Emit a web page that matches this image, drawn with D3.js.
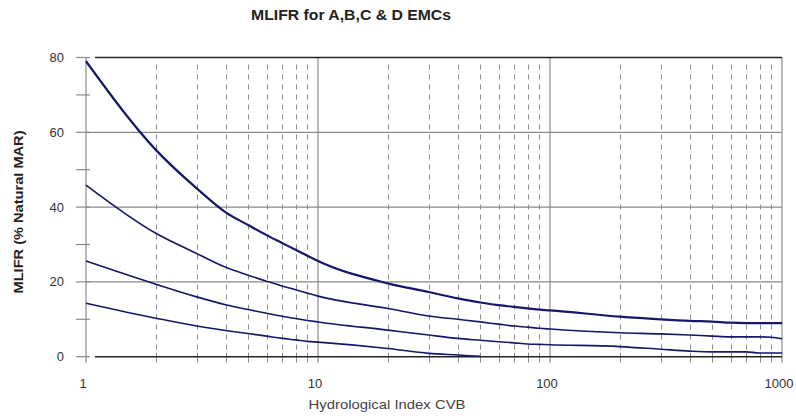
<!DOCTYPE html>
<meta charset="utf-8">
<script src="https://d3js.org/d3.v7.min.js"></script>
<style>
  body { margin: 0; background: #fff; }
  text { font-family: "Liberation Sans", Arial, sans-serif; }
</style>
<body>
<svg width="796" height="418"></svg>
<script>
    // values
    var cvb   = [1, 2, 3, 4, 5, 6, 7, 8, 9, 10, 20, 30, 40, 50, 60, 70, 80, 90, 100, 200, 300, 400, 500, 600, 700, 800, 900, 1000];
    var emcA  = [79, 55.3, 45, 38.6, 35.2, 32.5, 30.4, 28.6, 27.0, 25.6, 19.6, 17.3, 15.6, 14.5, 13.8, 13.3, 12.9, 12.6, 12.4, 10.7, 10.0, 9.6, 9.4, 9.1, 9.0, 9.0, 9.0, 9.0];
    var emcB  = [45.9, 33.0, 27.6, 23.9, 21.8, 20.2, 18.9, 17.9, 17.0, 16.2, 12.9, 10.9, 10.0, 9.3, 8.7, 8.2, 7.9, 7.6, 7.4, 6.4, 6.1, 5.8, 5.5, 5.3, 5.3, 5.3, 5.2, 4.8];
    var emcC  = [25.6, 19.4, 16.0, 13.9, 12.6, 11.6, 10.8, 10.2, 9.7, 9.3, 7.1, 5.8, 4.9, 4.4, 4.0, 3.7, 3.4, 3.3, 3.2, 2.7, 2.0, 1.5, 1.3, 1.3, 1.3, 1.0, 1.0, 1.0];
    var emcD  = [14.3, 10.3, 8.2, 7.0, 6.2, 5.5, 4.9, 4.5, 4.1, 3.9, 2.2, 0.9, 0.45, 0.1];
    var xTicks = [1, 10, 100, 1000];
    var yTicks = [0, 20, 40, 60, 80];
    var yMinor = [10, 30, 50, 70];

    var svg = d3.select('svg');
    var x = d3.scaleLog().domain([1, 1000]).range([86, 782]);
    var y = d3.scaleLinear().domain([0, 80]).range([356.7, 57.5]);

    var minorX = [];
    [1, 10, 100].forEach(function(d){
        for (var k = 2; k <= 9; k++) minorX.push(d * k);
    });

    // dashed minor gridlines
    svg.append('g').selectAll('line').data(minorX).enter().append('line')
        .attr('x1', function(d){ return Math.round(x(d)) + 0.5; })
        .attr('x2', function(d){ return Math.round(x(d)) + 0.5; })
        .attr('y1', y(80) + 7).attr('y2', y(0))
        .attr('stroke', '#8a8a8a').attr('stroke-width', 1)
        .attr('stroke-dasharray', '5,5');

    // solid major gridlines
    svg.append('g').selectAll('line').data(yTicks.slice(1, 4)).enter().append('line')
        .attr('x1', x(1)).attr('x2', x(1000))
        .attr('y1', function(d){ return y(d); }).attr('y2', function(d){ return y(d); })
        .attr('stroke', '#8a8a8a').attr('stroke-width', 1.2);
    svg.append('g').selectAll('line').data(xTicks).enter().append('line')
        .attr('x1', function(d){ return x(d); }).attr('x2', function(d){ return x(d); })
        .attr('y1', y(80)).attr('y2', y(0) + 6)
        .attr('stroke', '#8a8a8a').attr('stroke-width', 1.2);

    // y ticks crossing the axis
    svg.append('g').selectAll('line').data(yTicks.concat(yMinor)).enter().append('line')
        .attr('x1', x(1) - 10).attr('x2', x(1) + 4)
        .attr('y1', function(d){ return y(d); }).attr('y2', function(d){ return y(d); })
        .attr('stroke', '#8a8a8a').attr('stroke-width', 1.2);

    // x ticks crossing the axis
    svg.append('g').selectAll('line').data(minorX).enter().append('line')
        .attr('x1', function(d){ return Math.round(x(d)) + 0.5; })
        .attr('x2', function(d){ return Math.round(x(d)) + 0.5; })
        .attr('y1', y(0) - 4).attr('y2', y(0) + 6)
        .attr('stroke', '#8a8a8a').attr('stroke-width', 1);

    // dark top and bottom borders
    svg.append('g').selectAll('line').data([0, 80]).enter().append('line')
        .attr('x1', x(1) + 9).attr('x2', x(1000))
        .attr('y1', function(d){ return y(d); }).attr('y2', function(d){ return y(d); })
        .attr('stroke', '#222').attr('stroke-width', 1.6);

    // curves
    var line = d3.line()
        .x(function(d){ return x(d[0]); })
        .y(function(d){ return y(d[1]); })
        .curve(d3.curveMonotoneX);

    var series = [emcA, emcB, emcC, emcD];
    svg.append('g').selectAll('path').data(series).enter().append('path')
        .attr('fill', 'none')
        .attr('stroke', '#16166a')
        .attr('stroke-width', function(d, i){ return i === 0 ? 2.2 : 1.6; })
        .attr('d', function(d){ return line(d.map(function(v, i){ return [cvb[i], v]; })); });

    // tick labels
    svg.append('g').selectAll('text').data(yTicks).enter().append('text')
        .attr('x', 64).attr('y', function(d){ return y(d) + 4.5; })
        .attr('text-anchor', 'end')
        .attr('font-size', 13).attr('fill', '#333')
        .text(function(d){ return d; });

    svg.append('g').selectAll('text').data(xTicks).enter().append('text')
        .attr('x', function(d){ return x(d) - 3; }).attr('y', 388)
        .attr('text-anchor', 'middle')
        .attr('font-size', 13).attr('fill', '#333')
        .text(function(d){ return d; });

    // titles
    svg.append('text')
        .attr('x', 351).attr('y', 20)
        .attr('text-anchor', 'middle')
        .attr('font-size', 14).attr('font-weight', 'bold').attr('fill', '#222')
        .attr('textLength', 200).attr('lengthAdjust', 'spacingAndGlyphs')
        .text('MLIFR for A,B,C & D EMCs');

    svg.append('text')
        .attr('x', 387).attr('y', 409)
        .attr('text-anchor', 'middle')
        .attr('font-size', 13.5).attr('fill', '#444')
        .attr('textLength', 157).attr('lengthAdjust', 'spacingAndGlyphs')
        .text('Hydrological Index CVB');

    svg.append('text')
        .attr('transform', 'translate(23,212) rotate(-90)')
        .attr('text-anchor', 'middle')
        .attr('font-size', 13.5).attr('font-weight', 'bold').attr('fill', '#222')
        .attr('textLength', 163).attr('lengthAdjust', 'spacingAndGlyphs')
        .text('MLIFR (% Natural MAR)');
</script>
</body>
